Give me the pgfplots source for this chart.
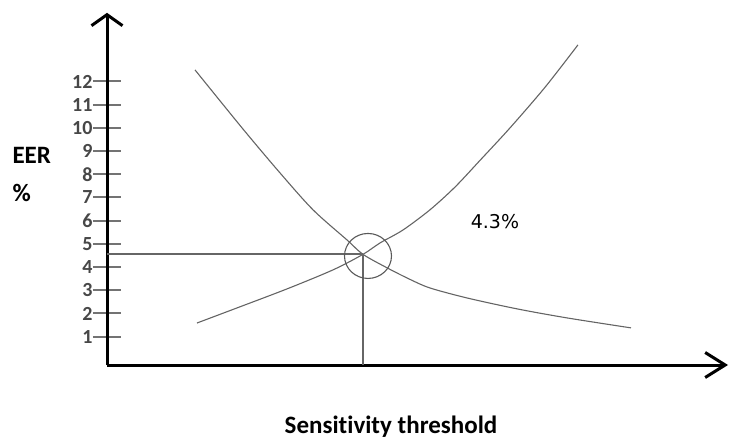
\documentclass[border=0pt]{standalone}
\usepackage{pgfplots}
\pgfplotsset{compat=1.18}
\usepackage{fontspec}
\setmainfont{Carlito}[Ligatures=NoCommon]
\newfontfamily\dejavu{DejaVu Sans}
\usetikzlibrary{arrows.meta}
\definecolor{curvegray}{RGB}{100,100,100}
\begin{document}
\begin{tikzpicture}
\begin{axis}[
  anchor=south west, at={(107pt,75pt)},
  x=1pt, y=23.2pt,
  xmin=107, xmax=728, ymin=-0.22, ymax=14.96,
  axis lines=left,
  clip=false,
  x axis line style={line width=3pt, -{Straight Barb[length=20pt,width=25pt]}},
  y axis line style={line width=3pt, -{Straight Barb[length=11pt,width=31pt]}},
  xtick=\empty,
  ytick={1,...,12},
  tick align=center,
  major tick length=28pt,
  every tick/.style={line width=2pt, black!55},
  /pgf/number format/assume math mode=true,
  yticklabel style={font=\bfseries\fontsize{20}{20}\selectfont, text=black!72, xshift=3pt},
]
% falling curve
\addplot[smooth, curvegray, line width=1.1pt] coordinates {(195,12.5) (243,9.95) (280,8.06) (313,6.47) (347,5.17) (363,4.55) (387,3.97) (410,3.47) (430,3.10) (467,2.67) (517,2.20) (567,1.81) (631,1.38)};
% rising curve
\addplot[smooth, curvegray, line width=1.1pt] coordinates {(197,1.59) (237,2.24) (287,3.06) (333,3.88) (363,4.55) (380,5.04) (403,5.60) (430,6.47) (455,7.45) (480,8.6) (510,10.0) (545,11.75) (578,13.58)};
% EER guides
\addplot[black!60, line width=1.8pt] coordinates {(107,4.55) (363,4.55)};
\addplot[black!60, line width=1.6pt] coordinates {(363,4.55) (363,-0.22)};
\draw[black!65, line width=1.1pt] (axis cs:368,4.48) ellipse [x radius=23.5pt, y radius=22.5pt];
\node[font=\dejavu\fontsize{19}{19}\selectfont] at (axis cs:495,5.95) {4.3\%};
\end{axis}
\node[anchor=west, font=\bfseries\fontsize{25}{30}\selectfont] at (9pt,285pt) {EER};
\node[anchor=west, font=\bfseries\fontsize{25}{30}\selectfont] at (9pt,247pt) {\%};
\node[anchor=base, font=\bfseries\fontsize{25}{30}\selectfont] at (391pt,7pt) {Sensitivity threshold};
\pgfresetboundingbox
\useasboundingbox (0,0) rectangle (732pt,440pt);
\end{tikzpicture}
\end{document}
